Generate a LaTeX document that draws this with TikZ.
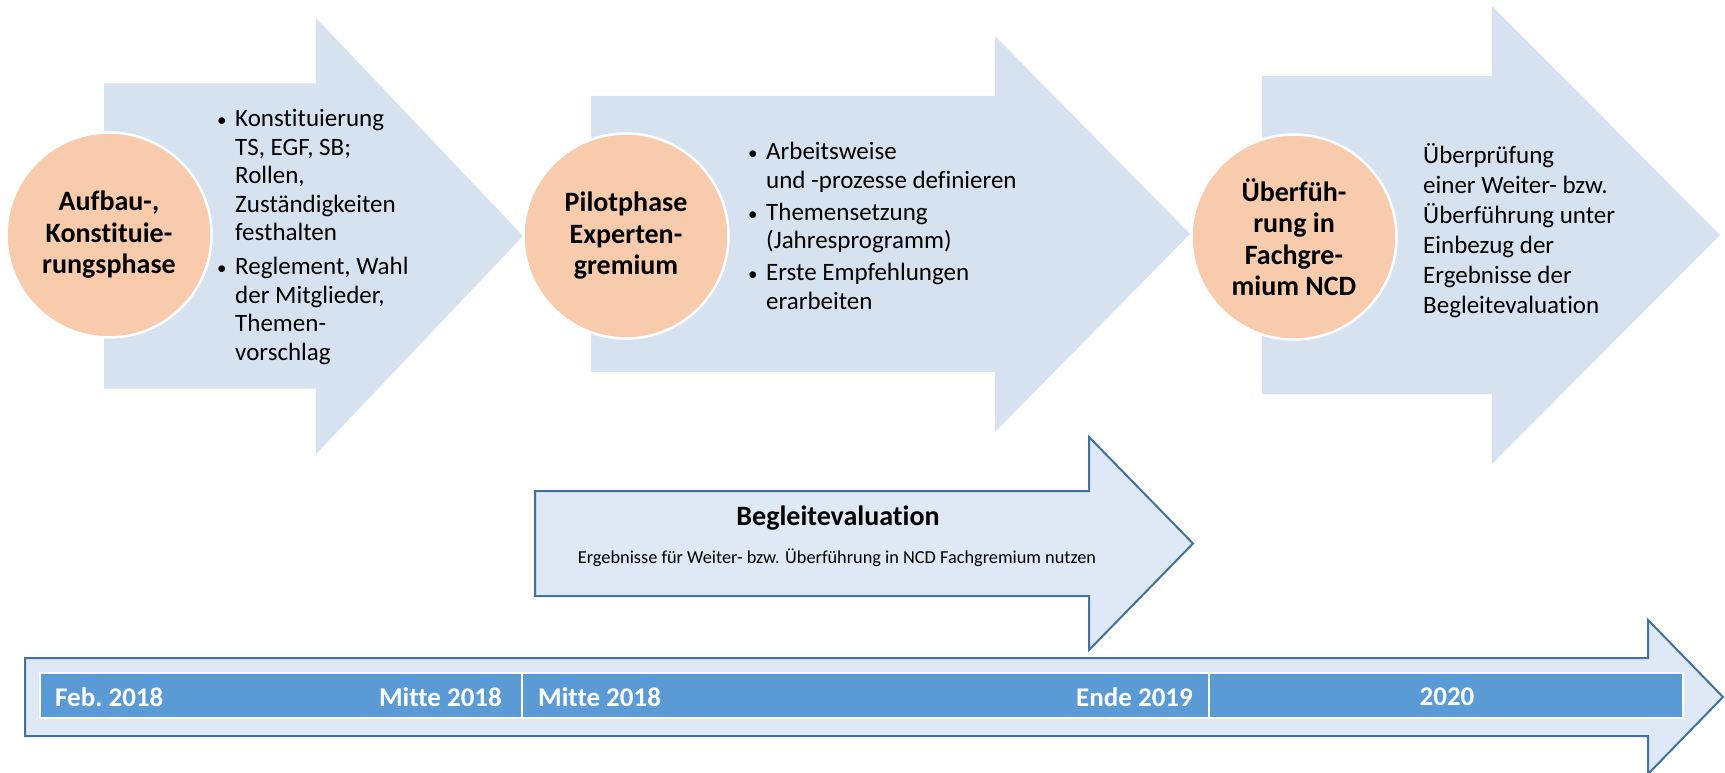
\documentclass[tikz,border=0pt]{standalone}
\usepackage{fontspec}
\setmainfont{Carlito}[Ligatures=NoCommon]
\definecolor{arrowfill}{HTML}{D7E2F1}
\definecolor{peach}{HTML}{F8CBAD}
\definecolor{lightfill}{HTML}{DEE9F5}
\definecolor{edgeblue}{HTML}{41719C}
\definecolor{barblue}{HTML}{5B9BD5}
\newcommand{\bul}{\hangindent=18pt\hangafter=1\noindent\makebox[18pt][l]{\fontsize{19}{19}\selectfont\textbullet}}
\tikzset{
  bigarrow/.style={fill=arrowfill, draw=none},
  outlinedarrow/.style={fill=lightfill, draw=edgeblue, line width=2pt, line join=miter},
  phase/.style={circle, fill=peach, draw=white, line width=2.5pt, minimum size=205pt, inner sep=0pt, align=center, font=\bfseries\fontsize{28}{31.5}\selectfont},
  bodytext/.style={inner sep=0pt, anchor=base west, font=\fontsize{25}{28.5}\selectfont},
  tl/.style={inner sep=0pt, text=white, font=\bfseries\fontsize{27}{30}\selectfont},
}
\begin{document}
\begin{tikzpicture}[x=1pt,y=-1pt]
\useasboundingbox (0,0) rectangle (1725,773);
% big phase arrows
\fill[bigarrow] (104,83.5) -- (316,83.5) -- (316,18) -- (523,236) -- (316,454) -- (316,388.5) -- (104,388.5) -- cycle;
\fill[bigarrow] (591,96) -- (995,96) -- (995,36) -- (1190,234) -- (995,432) -- (995,372) -- (591,372) -- cycle;
\fill[bigarrow] (1262,76) -- (1492,76) -- (1492,6) -- (1720,235) -- (1492,464) -- (1492,394) -- (1262,394) -- cycle;
% circles
\node[phase] (c1) at (109,235) {Aufbau-,\\Konstituie-\\rungsphase};
\node[phase] (c2) at (626,236) {Pilotphase\\Experten-\\gremium};
\node[phase] (c3) at (1294,237) {Überfüh-\\rung in\\Fachgre-\\mium NCD};
% arrow texts
\node[bodytext] (t1) at (217,127) {\parbox[t]{300pt}{%
  \bul Konstituierung\\TS, EGF, SB;\\Rollen,\\Zuständigkeiten\\festhalten\par\vspace{5.5pt}
  \bul Reglement, Wahl\\der Mitglieder,\\Themen-\\vorschlag}};
\node[bodytext] (t2) at (748,160) {\parbox[t]{400pt}{%
  \bul Arbeitsweise\\und -prozesse definieren\par\vspace{3.5pt}
  \bul Themensetzung\\(Jahresprogramm)\par\vspace{3.5pt}
  \bul Erste Empfehlungen\\erarbeiten}};
\node[bodytext, font=\fontsize{25}{30}\selectfont] (t3) at (1423,164) {\parbox[t]{300pt}{%
  Überprüfung\\einer Weiter- bzw.\\Überführung unter\\Einbezug der\\Ergebnisse der\\Begleitevaluation}};
% Begleitevaluation arrow
\draw[outlinedarrow] (535,491) -- (1089,491) -- (1089,437) -- (1193,543.5) -- (1089,650) -- (1089,596) -- (535,596) -- cycle;
\node[inner sep=0pt, font=\bfseries\fontsize{28}{30}\selectfont] (bt) at (838,518) {Begleitevaluation};
\node[inner sep=0pt, font=\fontsize{18.3}{20}\selectfont] (bs) at (837,558) {Ergebnisse für Weiter- bzw. Überführung in NCD Fachgremium nutzen};
% timeline arrow
\draw[outlinedarrow] (25,658) -- (1648,658) -- (1648,620) -- (1723,697) -- (1648,774) -- (1648,736) -- (25,736) -- cycle;
\fill[barblue, draw=white, line width=1.5pt] (40,673) rectangle (1683,718);
\draw[white, line width=1.5pt] (522,673) -- (522,718);
\draw[white, line width=1.5pt] (1209,673) -- (1209,718);
\node[tl, anchor=west] (d1) at (55,697) {Feb.\ 2018};
\node[tl, anchor=east] (d2) at (502,697) {Mitte 2018};
\node[tl, anchor=west] (d3) at (538,697) {Mitte 2018};
\node[tl, anchor=east] (d4) at (1193,697) {Ende 2019};
\node[tl] (d5) at (1447,697) {2020};
\end{tikzpicture}
\end{document}
